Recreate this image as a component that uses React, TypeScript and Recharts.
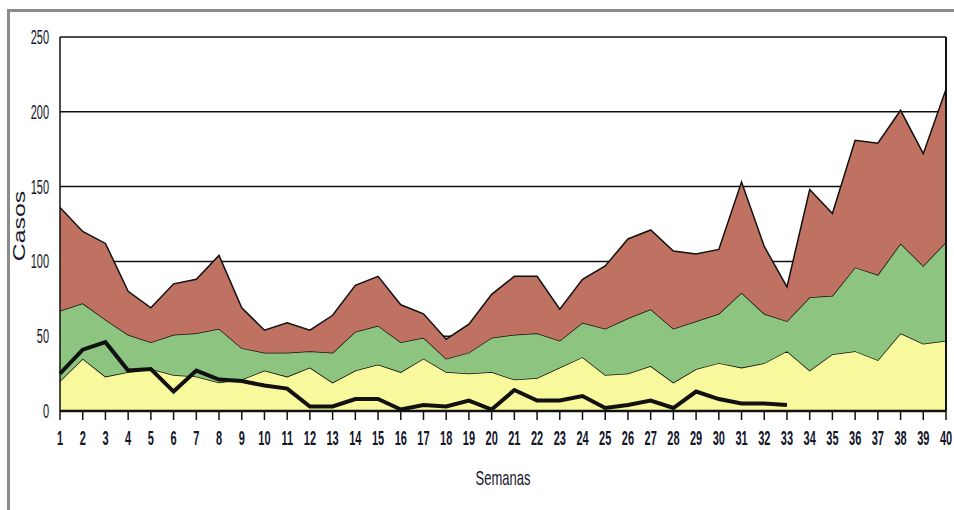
import React from 'react';
import { ComposedChart, Area, Line, XAxis, YAxis, CartesianGrid, ReferenceLine, Label } from 'recharts';

// semanas epidemiológicas
const weeks = [
  1, 2, 3, 4, 5, 6, 7, 8, 9, 10, 11, 12, 13, 14, 15, 16, 17, 18, 19, 20,
  21, 22, 23, 24, 25, 26, 27, 28, 29, 30, 31, 32, 33, 34, 35, 36, 37, 38, 39, 40,
];

// capas apiladas (amarillo abajo, verde, rojo arriba)
const yellowCases = [
  20, 35, 23, 26, 28, 24, 23, 19, 21, 27, 23, 29, 19, 27, 31, 26, 35, 26, 25, 26,
  21, 22, 29, 36, 24, 25, 30, 19, 28, 32, 29, 32, 40, 27, 38, 40, 34, 52, 45, 47,
];
const greenCases = [
  47, 37, 38, 25, 18, 27, 29, 36, 21, 12, 16, 11, 20, 26, 26, 20, 14, 9, 14, 23,
  30, 30, 18, 23, 31, 37, 38, 36, 32, 33, 50, 33, 20, 49, 39, 56, 57, 60, 52, 66,
];
const redCases = [
  69, 48, 51, 29, 23, 34, 36, 49, 27, 15, 20, 14, 25, 31, 33, 25, 16, 13, 19, 29,
  39, 38, 21, 29, 42, 53, 53, 52, 45, 43, 74, 45, 23, 72, 55, 85, 88, 89, 75, 102,
];
// línea negra (año actual, hasta la semana 33)
const currentCases = [
  25, 41, 46, 27, 28, 13, 27, 21, 20, 17, 15, 3, 3, 8, 8, 1, 4, 3, 7, 1,
  14, 7, 7, 10, 2, 4, 7, 2, 13, 8, 5, 5, 4, null, null, null, null, null, null, null,
];

const yTicks = [0, 50, 100, 150, 200, 250];

const data = weeks.map((w, i) => ({
  week: w,
  yellow: yellowCases[i],
  green: greenCases[i],
  red: redCases[i],
  current: currentCases[i],
}));

const FONT = "'Liberation Sans', Arial, sans-serif";
const INK = '#15152a';

const XTick = (props: any) => {
  const { x, payload } = props;
  return (
    <text
      transform={`translate(${x},445) scale(0.55,1)`}
      textAnchor="middle"
      fontSize={20}
      fontWeight="bold"
      fontFamily={FONT}
      fill={INK}
    >
      {payload.value}
    </text>
  );
};

const YTick = (props: any) => {
  const { y, payload } = props;
  return (
    <text
      transform={`translate(49,${y + 7}) scale(0.55,1)`}
      textAnchor="end"
      fontSize={20}
      fontFamily={FONT}
      fill={INK}
    >
      {payload.value}
    </text>
  );
};

const XTitle = () => (
  <text
    transform="translate(503,485) scale(0.62,1)"
    textAnchor="middle"
    fontSize={21}
    fontFamily={FONT}
    fill={INK}
  >
    Semanas
  </text>
);

const YTitle = () => (
  <text
    transform="translate(25,226) rotate(-90) scale(1.55,1)"
    textAnchor="middle"
    fontSize={16}
    fontFamily={FONT}
    fill={INK}
  >
    Casos
  </text>
);

const App: React.FC = () => {
  return (
    <div style={{ position: 'absolute', left: 0, top: 0, width: 954, height: 510, background: '#fff', overflow: 'hidden' }}>
      <div
        style={{
          position: 'absolute',
          left: 7,
          top: 9,
          width: 960,
          height: 520,
          borderTop: '3px solid #8c8c8c',
          borderLeft: '3px solid #8c8c8c',
        }}
      />
      <div style={{ position: 'absolute', left: 0, top: 0 }}>
        <ComposedChart
          width={954}
          height={510}
          data={data}
          margin={{ top: 37, right: 8, bottom: 69, left: 0 }}
        >
          <CartesianGrid vertical={false} stroke="#111" strokeWidth={1.5} />
          <XAxis
            dataKey="week"
            type="number"
            domain={[1, 40]}
            ticks={weeks}
            interval={0}
            height={30}
            tick={<XTick />}
            tickSize={9}
            tickLine={{ stroke: '#111', strokeWidth: 1.5 }}
            axisLine={{ stroke: '#111', strokeWidth: 2.5 }}
          >
            <Label content={<XTitle />} />
          </XAxis>
          <YAxis
            domain={[0, 250]}
            ticks={yTicks}
            width={60}
            tick={<YTick />}
            tickLine={false}
            axisLine={{ stroke: '#111', strokeWidth: 1.5 }}
          >
            <Label content={<YTitle />} />
          </YAxis>
          <Area
            type="linear"
            dataKey="yellow"
            stackId="a"
            stroke="#111"
            strokeWidth={1.5}
            fill="#f7f99c"
            fillOpacity={1}
            dot={false}
            activeDot={false}
            isAnimationActive={false}
          />
          <Area
            type="linear"
            dataKey="green"
            stackId="a"
            stroke="#111"
            strokeWidth={1.5}
            fill="#8dc47f"
            fillOpacity={1}
            dot={false}
            activeDot={false}
            isAnimationActive={false}
          />
          <Area
            type="linear"
            dataKey="red"
            stackId="a"
            stroke="#111"
            strokeWidth={1.5}
            fill="#c07262"
            fillOpacity={1}
            dot={false}
            activeDot={false}
            isAnimationActive={false}
          />
          <Line
            type="linear"
            dataKey="current"
            stroke="#111"
            strokeWidth={4}
            dot={false}
            activeDot={false}
            connectNulls={false}
            isAnimationActive={false}
          />
          <ReferenceLine x={40} stroke="#111" strokeWidth={2} />
        </ComposedChart>
      </div>
    </div>
  );
};

export default App;
